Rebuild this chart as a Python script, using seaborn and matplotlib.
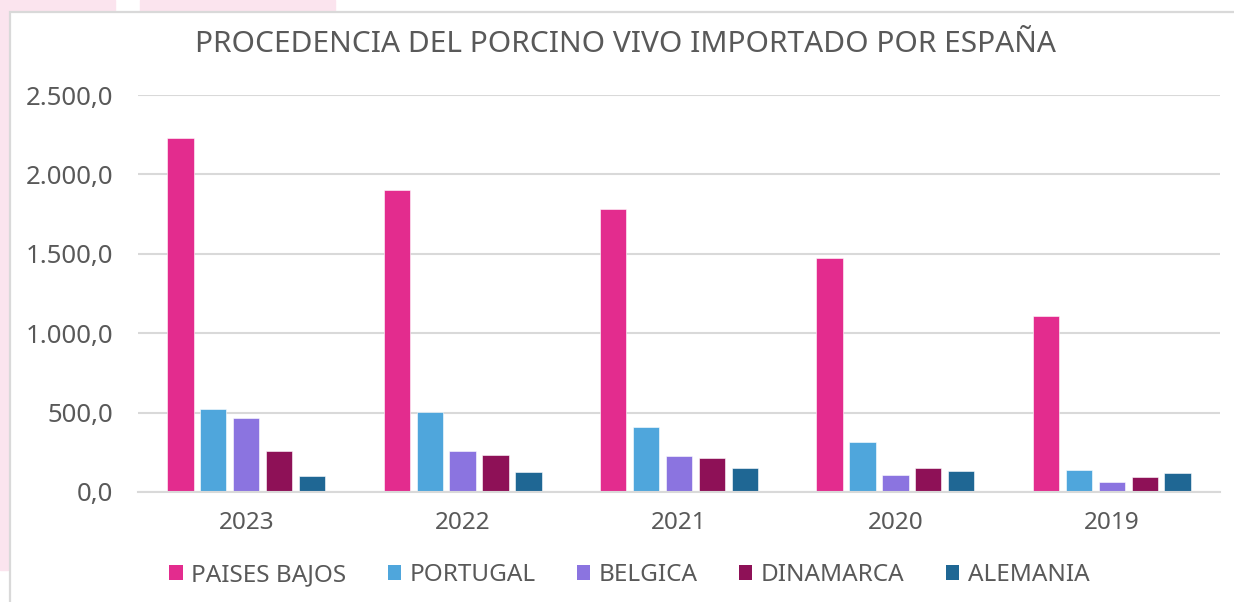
import matplotlib
matplotlib.use("Agg")
import matplotlib.pyplot as plt
from matplotlib.patches import Rectangle, Patch
from matplotlib.ticker import FuncFormatter
import seaborn as sns
import pandas as pd

years = ["2023", "2022", "2021", "2020", "2019"]
countries = ["PAISES BAJOS", "PORTUGAL", "BELGICA", "DINAMARCA", "ALEMANIA"]
paises_bajos = [2229, 1902, 1780, 1474, 1106]
portugal = [524, 504, 411, 315, 139]
belgica = [468, 260, 229, 107, 63]
dinamarca = [260, 235, 216, 149, 95]
alemania = [102, 126, 149, 132, 120]
colors = ["#E32C8E", "#4FA6DC", "#8B74E0", "#8E1157", "#1F6794"]

series = [paises_bajos, portugal, belgica, dinamarca, alemania]
rows = []
for c, vals in zip(countries, series):
    for y, v in zip(years, vals):
        rows.append({"year": y, "country": c, "value": v})
df = pd.DataFrame(rows)

sns.set_theme(style="white")
plt.rcParams["font.family"] = ["Noto Sans", "DejaVu Sans"]
text_color = "#595959"
grid_color = "#D9D9D9"

fig = plt.figure(figsize=(12.34, 6.02), dpi=100)
# decorative background / chart border
pink = "#FBE4EE"
fig.patches.append(Rectangle((0, 0.053), 8/1234, 0.947, transform=fig.transFigure, color=pink, zorder=-2))
fig.patches.append(Rectangle((0, 1-12/602), 115/1234, 12/602, transform=fig.transFigure, color=pink, zorder=-2))
fig.patches.append(Rectangle((140/1234, 1-12/602), 195/1234, 12/602, transform=fig.transFigure, color=pink, zorder=-2))
fig.patches.append(Rectangle((10/1234, -0.01), 1.0, 1-12/602+0.01, transform=fig.transFigure,
                             facecolor="white", edgecolor=grid_color, lw=1.6, zorder=-1))

ax = fig.add_axes([138/1234, 1-492/602, (1220-138)/1234, (492-95)/602])
ax.set_facecolor("none")
sns.barplot(data=df, x="year", y="value", hue="country", order=years, hue_order=countries,
            palette=colors, width=0.76, gap=0.2, ax=ax, legend=False, saturation=1,
            edgecolor="white", linewidth=0.4)
ax.set_ylim(0, 2500)
ax.set_yticks([0, 500, 1000, 1500, 2000, 2500])
ax.yaxis.set_major_formatter(FuncFormatter(lambda v, p: f"{v:,.1f}".replace(",", "X").replace(".", ",").replace("X", ".")))
ax.grid(axis="y", color=grid_color, lw=1.5)
ax.set_axisbelow(True)
for s in ["top", "right", "left"]:
    ax.spines[s].set_visible(False)
ax.spines["bottom"].set_color(grid_color)
ax.spines["bottom"].set_linewidth(1.5)
ax.set_xlabel("")
ax.set_ylabel("")
ax.tick_params(axis="y", length=0, pad=18, labelsize=18.5, labelcolor=text_color)
ax.tick_params(axis="x", length=0, pad=14, labelsize=17.5, labelcolor=text_color)

fig.text(0.507, 1-45/602, "PROCEDENCIA DEL PORCINO VIVO IMPORTADO POR ESPAÑA",
         ha="center", va="center", fontsize=21.5, color=text_color)

handles = [Patch(facecolor=c, edgecolor="none") for c in colors]
fig.legend(handles, countries, loc="center", bbox_to_anchor=(0.51, 1-575/602), ncol=5,
           frameon=False, fontsize=17.5, labelcolor=text_color, handlelength=0.55, handleheight=0.55,
           handletextpad=0.35, columnspacing=1.7)

fig.savefig("out.png", dpi=100)
